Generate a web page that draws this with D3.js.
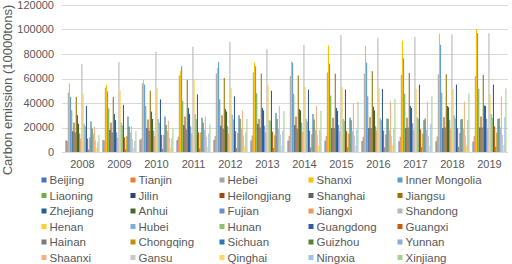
<!DOCTYPE html>
<html>
<head>
<meta charset="utf-8">
<script src="https://cdn.jsdelivr.net/npm/d3@7"></script>
<style>
  body { margin: 0; background: #fff; }
  text { font-family: "Liberation Sans", Arial, sans-serif; fill: #595959; }
</style>
</head>
<body>
<svg id="chart" width="512" height="264"></svg>
<script>
  const years = ["2008", "2009", "2010", "2011", "2012", "2013", "2014", "2015", "2016", "2017", "2018", "2019"];
  const provinces = ["Beijing", "Tianjin", "Hebei", "Shanxi", "Inner Mongolia",
    "Liaoning", "Jilin", "Heilongjiang", "Shanghai", "Jiangsu",
    "Zhejiang", "Anhui", "Fujian", "Jiangxi", "Shandong",
    "Henan", "Hubei", "Hunan", "Guangdong", "Guangxi",
    "Hainan", "Chongqing", "Sichuan", "Guizhou", "Yunnan",
    "Shaanxi", "Gansu", "Qinghai", "Ningxia", "Xinjiang"];
  const colors = ["#4472C4", "#ED7D31", "#A5A5A5", "#FFC000", "#5B9BD5",
    "#70AD47", "#264478", "#9E480E", "#636363", "#997300",
    "#255E91", "#43682B", "#698ED0", "#F1975A", "#B7B7B7",
    "#FFCD33", "#7CAFDD", "#8CC168", "#335AA1", "#C55A11",
    "#7B7B7B", "#BF9000", "#2E75B6", "#548235", "#8FAADC",
    "#F4B183", "#C9C9C9", "#FFD966", "#9DC3E6", "#A9D18E"];
  const yTicks = [0, 20000, 40000, 60000, 80000, 100000, 120000];

  // emissions per province, 2008..2019 (10000 tons)
  const emissions = [
    [9500, 9700, 10000, 9600, 9900, 9400, 9300, 9200, 9000, 8800, 8700, 8500],
    [9000, 9500, 11000, 12500, 13000, 13500, 13000, 13000, 12500, 12500, 12800, 13000],
    [48500, 52500, 56000, 62500, 64000, 65000, 62000, 65000, 64000, 63000, 63500, 62000],
    [56000, 55000, 59000, 66000, 68500, 73000, 74000, 87000, 86500, 91000, 96500, 100500],
    [45000, 49500, 55000, 70000, 73500, 70000, 73000, 72000, 73000, 76500, 87500, 97000],
    [34000, 35500, 37500, 41500, 43000, 48000, 47500, 46000, 45500, 47500, 48500, 51500],
    [17000, 18000, 19500, 22000, 21500, 23000, 22000, 19500, 19500, 19500, 19500, 20000],
    [24000, 24000, 26500, 29000, 30000, 27000, 29000, 28000, 28500, 28000, 28500, 29000],
    [16000, 16000, 17500, 18500, 19000, 20000, 19000, 19500, 19500, 20000, 20000, 20000],
    [45000, 45000, 50000, 59000, 60500, 64000, 62500, 64000, 66000, 64500, 63500, 63000],
    [30000, 31000, 33000, 36000, 35000, 36000, 35000, 36000, 37000, 37500, 37500, 38000],
    [23000, 26000, 27000, 31000, 33000, 34000, 34000, 33500, 34000, 36000, 36500, 37500],
    [15000, 16000, 17500, 21000, 21000, 21500, 24000, 22000, 21000, 23500, 26000, 27000],
    [11000, 11500, 13000, 15000, 15000, 16000, 16500, 17000, 17500, 18000, 18500, 19500],
    [72000, 73500, 82000, 86000, 90000, 84000, 87500, 95500, 93000, 94000, 96000, 97000],
    [47500, 50000, 52500, 58500, 52500, 54500, 53000, 53000, 52500, 51500, 51500, 47000],
    [23000, 24000, 27000, 31000, 30500, 26000, 27000, 27000, 27500, 28500, 30000, 31000],
    [21000, 22000, 24000, 27000, 26500, 25500, 25000, 25500, 26000, 27000, 27500, 28000],
    [37500, 38500, 43000, 47000, 45500, 50000, 51000, 51000, 51500, 55000, 55000, 55000],
    [11000, 12000, 14000, 16000, 17000, 16500, 17500, 17000, 17500, 18500, 19500, 21000],
    [2000, 2300, 2600, 3000, 3300, 3400, 3600, 3800, 3800, 4000, 4200, 4300],
    [12000, 13000, 14000, 16000, 15500, 13500, 14500, 15000, 14500, 15000, 15500, 16000],
    [25000, 29000, 29000, 28000, 30000, 32000, 31000, 28000, 27500, 26000, 26500, 27000],
    [19000, 21000, 22000, 24000, 27000, 27000, 26500, 26000, 27000, 27500, 27000, 27500],
    [15000, 16000, 17000, 18000, 19000, 19000, 18000, 17000, 17500, 18000, 19000, 20000],
    [20500, 21000, 25500, 29000, 34000, 37500, 37500, 39500, 41500, 41000, 41000, 45500],
    [10000, 10500, 11500, 12500, 13500, 14000, 14000, 13500, 13000, 13000, 13500, 14000],
    [3000, 3300, 3500, 4000, 4500, 5000, 5200, 5200, 5300, 5200, 5300, 5500],
    [8000, 9000, 11000, 15000, 16000, 17500, 18000, 18500, 19000, 23000, 26000, 28500],
    [14000, 17000, 19000, 22500, 27000, 33500, 33500, 41000, 43500, 45500, 48000, 52000]
  ];

  const svg = d3.select("#chart");
  const plot = { left: 64, right: 508, top: 5, bottom: 152 };

  const x0 = d3.scaleBand().domain(years).range([plot.left, plot.right]).paddingInner(0.08).paddingOuter(0.04);
  const x1 = d3.scaleBand().domain(d3.range(provinces.length)).range([0, x0.bandwidth()]).padding(0.05);
  const y = d3.scaleLinear().domain([0, 120000]).range([plot.bottom, plot.top]);

  // gridlines
  svg.append("g")
    .selectAll("line")
    .data(yTicks)
    .join("line")
    .attr("x1", plot.left - 2)
    .attr("x2", plot.right)
    .attr("y1", d => Math.round(y(d)) + 0.5)
    .attr("y2", d => Math.round(y(d)) + 0.5)
    .attr("stroke", "#d9d9d9")
    .attr("stroke-width", 1);

  // y tick labels
  svg.append("g")
    .selectAll("text")
    .data(yTicks)
    .join("text")
    .attr("x", 54)
    .attr("y", d => Math.max(y(d), 5.5))
    .attr("dy", "0.35em")
    .attr("text-anchor", "end")
    .style("font-size", "11px")
    .text(d => d);

  // bars
  const groups = svg.append("g")
    .selectAll("g")
    .data(years)
    .join("g")
    .attr("transform", d => `translate(${x0(d)},0)`);

  groups.selectAll("rect")
    .data((yr, j) => provinces.map((p, i) => ({ i, v: emissions[i][j] })))
    .join("rect")
    .attr("x", d => x1(d.i))
    .attr("width", x1.bandwidth())
    .attr("y", d => y(d.v))
    .attr("height", d => y(0) - y(d.v))
    .attr("fill", d => colors[d.i]);

  // year labels
  svg.append("g")
    .selectAll("text")
    .data(years)
    .join("text")
    .attr("x", d => x0(d) + x0.bandwidth() / 2)
    .attr("y", 168)
    .attr("text-anchor", "middle")
    .style("font-size", "11px")
    .text(d => d);

  // y axis title
  svg.append("text")
    .attr("transform", "translate(12,90) rotate(-90)")
    .attr("text-anchor", "middle")
    .style("font-size", "13px")
    .text("Carbon emission (10000tons)");

  // legend
  const legend = svg.append("g")
    .selectAll("g")
    .data(provinces)
    .join("g")
    .attr("transform", (d, i) => `translate(${41.5 + (i % 5) * 89},${180 + Math.floor(i / 5) * 15.5})`);

  legend.append("rect")
    .attr("x", 0)
    .attr("y", -2.5)
    .attr("width", 5)
    .attr("height", 5)
    .attr("fill", (d, i) => colors[i]);

  legend.append("text")
    .attr("x", 8)
    .attr("dy", "0.35em")
    .style("font-size", "11.5px")
    .text(d => d);
</script>
</body>
</html>
